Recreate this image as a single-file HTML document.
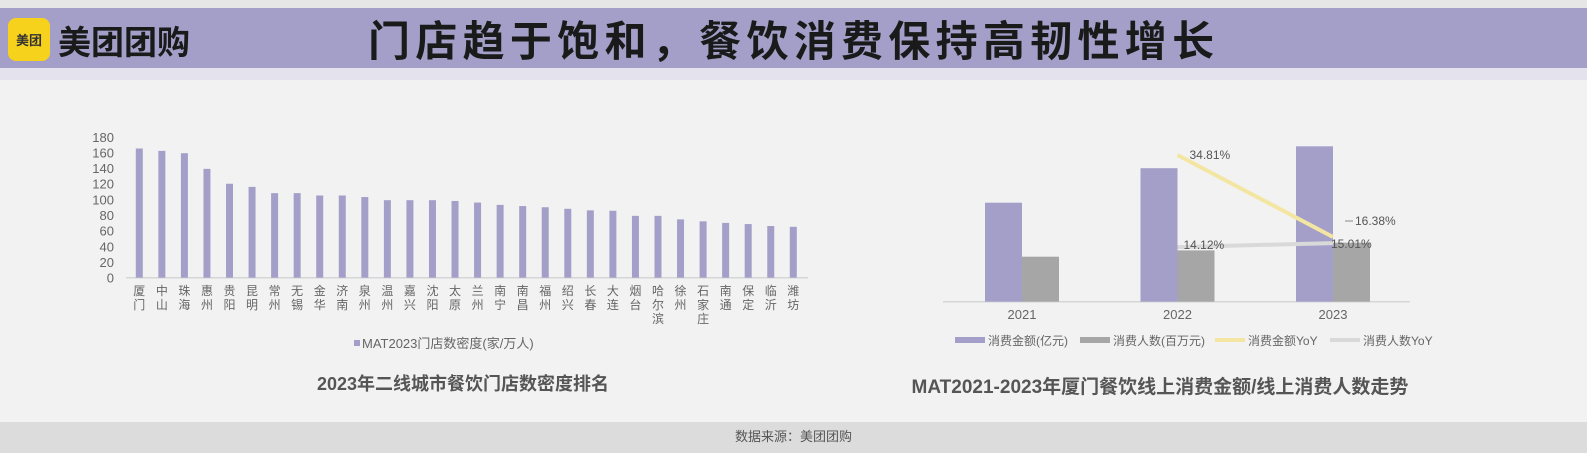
<!DOCTYPE html>
<html><head><meta charset="utf-8">
<style>
body{margin:0;width:1587px;height:453px;background:#f2f2f2;overflow:hidden;font-family:"Liberation Sans","Noto Sans CJK SC",sans-serif;position:relative}
.abs{position:absolute}
</style></head>
<body>
<div class="abs" style="left:0;top:0;width:1587px;height:8px;background:#e6e6e6"></div>
<div class="abs" style="left:0;top:8px;width:1587px;height:60px;background:#a39fc8"></div>
<div class="abs" style="left:0;top:68px;width:1587px;height:12px;background:#e4e2ec"></div>
<div class="abs" style="left:8px;top:18px;width:42px;height:43px;background:#f7d21c;border-radius:8px;font-size:13px;font-weight:bold;color:#333;text-align:center;line-height:43px;font-family:'Noto Sans CJK SC',sans-serif">美团</div>
<div class="abs" style="left:58px;top:16px;font-size:33px;font-weight:bold;color:#1a1a1a;line-height:48px;font-family:'Noto Sans CJK SC',sans-serif">美团团购</div>
<div class="abs" style="left:368px;top:13px;font-size:42px;font-weight:bold;color:#1a1a1a;line-height:52px;letter-spacing:5.3px;font-family:'Noto Sans CJK SC',sans-serif">门店趋于饱和，餐饮消费保持高韧性增长</div>
<div class="abs" style="left:0;top:422px;width:1587px;height:31px;background:#dcdcdc"></div>
<div class="abs" style="left:0;top:426px;width:1587px;text-align:center;font-size:13px;color:#555;font-family:'Noto Sans CJK SC',sans-serif">数据来源：美团团购</div>

<svg class="abs" style="left:0;top:0" width="1587" height="453">
<g id="left"></g>
<g id="right"></g>
</svg>
<script>
const cities=["厦门","中山","珠海","惠州","贵阳","昆明","常州","无锡","金华","济南","泉州","温州","嘉兴","沈阳","太原","兰州","南宁","南昌","福州","绍兴","长春","大连","烟台","哈尔滨","徐州","石家庄","南通","保定","临沂","潍坊"];
const density=[165,162,159,139,120,116,108,108,105,105,103,99,99,99,98,96,93,91.5,90,88,86,85.5,79,79,74.5,72,70,68.5,66,65];
const yTicks=[0,20,40,60,80,100,120,140,160,180];
const years=["2021","2022","2023"];
const amount=[99,133.5,155.4];
const people=[45,51.3,59];
const amountYoY=[null,34.81,16.38];
const peopleYoY=[null,14.12,15.01];
const NS="http://www.w3.org/2000/svg";
function mk(p,t,a,txt){const e=document.createElementNS(NS,t);for(const k in a)e.setAttribute(k,a[k]);if(txt!==undefined)e.textContent=txt;p.appendChild(e);return e;}
const F='"Liberation Sans","Noto Sans CJK SC",sans-serif';
const L=document.getElementById('left');
const base=277.7, per=0.783;
const ly=v=>base-v*per;
const n=cities.length;
const x0=139.3, x1=793.3, step=(x1-x0)/(n-1);
const lx=i=>x0+i*step;
yTicks.forEach(t=>{const e=mk(L,'text',{x:114,y:ly(t)+5,'text-anchor':'end','font-size':13,fill:'#666','font-family':F},t);

});
const ax=mk(L,'line',{x1:126,x2:808,y1:base,y2:base,stroke:'#d6d6d6','stroke-width':1.5});


density.forEach((v,i)=>{const r=mk(L,'rect',{x:lx(i)-3.5,y:ly(v),width:7,height:v*per,fill:'#a39fc8'});


[...cities[i]].forEach((c,j)=>{const t=mk(L,'text',{x:lx(i),y:295+j*14,'text-anchor':'middle','font-size':12,fill:'#666','font-family':F},c);

});});
const lg=mk(L,'rect',{x:354,y:340,width:6,height:6,fill:'#a39fc8'});


const lt=mk(L,'text',{x:362,y:348,'font-size':13,fill:'#666','font-family':F},'MAT2023门店数密度(家/万人)');


const tt=mk(L,'text',{x:463,y:390,'text-anchor':'middle','font-size':18,'font-weight':'bold',fill:'#555','font-family':F},'2023年二线城市餐饮门店数密度排名');


const R=document.getElementById('right');
const rb=301.7, rper=1.0;
const ry=v=>rb-v*rper;
const gx=i=>1022+i*155.5;
const py=v=>309.9-v*4.45;
const ax2=mk(R,'line',{x1:943,x2:1410,y1:rb,y2:rb,stroke:'#d6d6d6','stroke-width':1.5});


years.forEach((y,i)=>{
const a=mk(R,'rect',{x:gx(i)-37,y:ry(amount[i]),width:37,height:amount[i]*rper,fill:'#a39fc8'});


const p=mk(R,'rect',{x:gx(i),y:ry(people[i]),width:37,height:people[i]*rper,fill:'#a6a6a6'});


const t=mk(R,'text',{x:gx(i),y:319,'text-anchor':'middle','font-size':13,fill:'#666','font-family':F},y);

});
const l1=mk(R,'line',{x1:gx(1),y1:py(amountYoY[1]),x2:gx(2),y2:py(amountYoY[2]),stroke:'#f3e6a2','stroke-width':4});


const l2=mk(R,'line',{x1:gx(1),y1:py(peopleYoY[1]),x2:gx(2),y2:py(peopleYoY[2]),stroke:'#d9d9d9','stroke-width':4});


const labs=[[gx(1)+12,py(amountYoY[1])+4,amountYoY[1]],[gx(2)+22,py(amountYoY[2])-12,amountYoY[2]],[gx(1)+6,py(peopleYoY[1])+2,peopleYoY[1]],[gx(2)-2,py(peopleYoY[2])+5,peopleYoY[2]]];
labs.forEach(l=>{const t=mk(R,'text',{x:l[0],y:l[1],'font-size':12,fill:'#555','font-family':F},l[2].toFixed(2)+'%');

});
mk(R,'line',{x1:gx(2)+12,y1:py(amountYoY[2])-16,x2:gx(2)+20,y2:py(amountYoY[2])-16,stroke:'#888'});
const leg=[[955,'rect','#a39fc8','消费金额(亿元)'],[1080,'rect','#a6a6a6','消费人数(百万元)'],[1215,'line','#f3e6a2','消费金额YoY'],[1330,'line','#d9d9d9','消费人数YoY']];
leg.forEach(g=>{
if(g[1]==='rect'){const s=mk(R,'rect',{x:g[0],y:337,width:30,height:6,fill:g[2]});

}
else{const s=mk(R,'line',{x1:g[0],x2:g[0]+30,y1:340,y2:340,stroke:g[2],'stroke-width':4});

}
const t=mk(R,'text',{x:g[0]+33,y:345,'font-size':12,fill:'#666','font-family':F},g[3]);

});
const t2=mk(R,'text',{x:1160,y:393,'text-anchor':'middle','font-size':19,'font-weight':'bold',fill:'#555','font-family':F},'MAT2021-2023年厦门餐饮线上消费金额/线上消费人数走势');


</script>
</body></html>
